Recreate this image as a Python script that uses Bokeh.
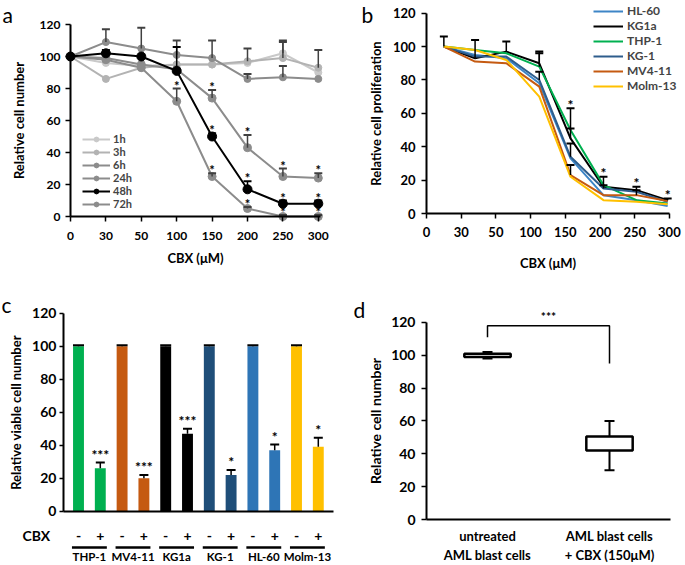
from bokeh.plotting import figure
from bokeh.layouts import row, column
from bokeh.models import (ColumnDataSource, Range1d, Legend, LegendItem, FixedTicker)
from bokeh.core.properties import value
from bokeh.embed import file_html
from bokeh.resources import INLINE

nan = float("nan")
FONT = "Lato"

# ---------------- panel a data ----------------
a_doses = ["0", "30", "50", "100", "150", "200", "250", "300"]
a_names = ["1h", "3h", "6h", "24h", "48h", "72h"]
a_1h = [100, 96, 94, 95, 95, 96, 102, 90]
a_3h = [100, 86, 93, 95, 95, 97, 99, 93]
a_6h = [100, 109, 105, 101, 99, 86, 87, 86]
a_24h = [100, 99, 95, 92, 74, 43, 25, 24]
a_48h = [100, 102, 100, 91, 50, 17, 8, 8]
a_72h = [100, 98, 93, 72, 25, 5, 0, 0]
a_err_1h = [nan, nan, nan, nan, nan, nan, 110, nan]
a_err_3h = [nan, nan, nan, nan, nan, 105, 109, 104]
a_err_6h = [nan, 117, 118, 110, 110, 89, 94, nan]
a_err_24h = [nan, nan, nan, nan, 79, 51, 30, 27]
a_err_48h = [nan, 104, nan, 106, 52, 22, 10, 10]
a_err_72h = [nan, nan, nan, 80, 27, 6, 1, 1]
a_star_24h = [0, 0, 0, 0, 1, 1, 1, 1]
a_star_48h = [0, 0, 0, 0, 1, 1, 1, 1]
a_star_72h = [0, 0, 0, 1, 1, 1, 1, 1]

# ---------------- panel b data ----------------
b_doses = ["0", "30", "50", "100", "150", "200", "250", "300"]
b_pos = [0.5, 1.4, 2.3, 3.25, 4.15, 5.1, 6.05, 6.95]
b_names = ["HL-60", "KG1a", "THP-1", "KG-1", "MV4-11", "Molm-13"]
b_hl60 = [100, 95, 93, 78, 33, 11, 8, 4.5]
b_kg1a = [100, 93, 97, 90, 45, 16, 14, 8]
b_thp1 = [100, 98, 96, 88, 50, 17, 8, 6]
b_kg1 = [100, 94, 94, 80, 34, 15, 13, 7]
b_mv411 = [100, 91, 90, 76, 23, 11, 11, 7.5]
b_molm13 = [100, 98, 92, 70, 22, 8, 7, 5.5]
b_err_kg1a = [106, 104, 103, 97, 51, nan, 16, 9]
b_err_thp1 = [nan, nan, nan, 96, 63, 22, nan, nan]
b_err_kg1 = [nan, nan, nan, 85, 42, 17, nan, nan]
b_err_mv411 = [nan, nan, nan, nan, 29, nan, 14, nan]
b_star = [0, 0, 0, 0, 1, 1, 1, 1]

# ---------------- panel c data ----------------
c_lines = ["THP-1", "MV4-11", "KG1a", "KG-1", "HL-60", "Molm-13"]
c_ctrl = [100, 100, 100, 100, 100, 100]
c_ctrl_err = [0.6, 0.6, 0.6, 0.6, 0.6, 0.6]
c_cbx = [26, 20, 47, 22, 37, 39]
c_cbx_err = [3.5, 2, 3, 3, 3.5, 5.5]
c_sig = ["***", "***", "***", "*", "*", "*"]
c_signs = ["-", "+"]

# ---------------- panel d data ----------------
d_groups = ["untreated\nAML blast cells", "AML blast cells\n+ CBX (150\u03bcM)"]
d_low = [98, 30]
d_q1 = [99, 42]
d_med = [100, 42]
d_q3 = [101, 50.5]
d_high = [102, 60]
d_bracket = [111, 118, 118, 95]
d_sig = "***"

A_COLORS = ["#c9c9c9", "#b3b3b3", "#8c8c8c", "#8c8c8c", "#000000", "#8c8c8c"]
B_COLORS = ["#3d85c6", "#000000", "#00b050", "#2e5d8c", "#c55a11", "#ffc000"]
C_COLORS = ["#00b050", "#c55a11", "#000000", "#1f4e79", "#2e75b6", "#ffc000"]


class Geo:
    """Maps canvas pixels of a panel to data units (frame covers the whole canvas)."""
    def __init__(self, w, h, ox, kx, oy, ky):
        self.w, self.h, self.ox, self.kx, self.oy, self.ky = w, h, ox, kx, oy, ky

    def xr(self):
        return Range1d(-self.ox / self.kx, (self.w - self.ox) / self.kx)

    def yr(self):
        return Range1d(-(self.h - self.oy) / self.ky, self.oy / self.ky)

    def X(self, px):
        return (px - self.ox) / self.kx

    def Y(self, py):
        return (self.oy - py) / self.ky


def base_fig(g, tick_fs, lab_fs):
    p = figure(width=g.w, height=g.h, x_range=g.xr(), y_range=g.yr(),
               min_border_left=0, min_border_right=0, min_border_top=0, min_border_bottom=0,
               output_backend="svg", toolbar_location=None)
    p.xgrid.visible = False
    p.ygrid.visible = False
    p.outline_line_color = None
    for ax in (p.xaxis, p.yaxis):
        ax.axis_line_width = 2
        ax.axis_line_color = "black"
        ax.major_tick_line_width = 1.5
        ax.major_tick_line_color = "black"
        ax.major_tick_in = 0
        ax.major_tick_out = 5
        ax.minor_tick_line_color = None
        ax.major_label_text_font = FONT
        ax.major_label_text_font_style = "bold"
        ax.major_label_text_font_size = tick_fs
        ax.major_label_text_color = "black"
        ax.axis_label_text_font = FONT
        ax.axis_label_text_font_style = "bold"
        ax.axis_label_text_font_size = lab_fs
        ax.axis_label_text_color = "black"
    p.yaxis.ticker = FixedTicker(ticks=[0, 20, 40, 60, 80, 100, 120])
    p.yaxis.bounds = (0, 120)
    return p


def txt(p, xs, ys, texts, fs, bold=True, align="center", baseline="middle", yoff=0):
    p.text(x=xs, y=ys, text=texts, text_font=value(FONT),
           text_font_style="bold" if bold else "normal", text_font_size=fs,
           text_align=align, text_baseline=baseline, y_offset=yoff, text_color="black")


def letter(p, g, t, px, py):
    txt(p, [g.X(px)], [g.Y(py)], [t], "21px", bold=False, align="left")


def err_bars(p, xs, vals, tops, color, cap):
    x0, y0, y1 = [], [], []
    for x, v, t in zip(xs, vals, tops):
        if t == t:
            x0.append(x); y0.append(v); y1.append(t)
    src = ColumnDataSource(dict(x=x0, y0=y0, y1=y1))
    p.segment(x0="x", y0="y0", x1="x", y1="y1", source=src, line_color=color, line_width=1.5)
    p.scatter(x="x", y="y1", source=src, marker="dash", size=cap, line_color=color, line_width=2)


def stars(p, xs, ys, flags, t, fs, off):
    sx = [x for x, f in zip(xs, flags) if f]
    sy = [y for y, f in zip(ys, flags) if f]
    txt(p, sx, sy, [t] * len(sx), fs, yoff=off)


# ================= panel a =================
a_x = list(range(len(a_doses)))
ga = Geo(340, 290, 70, 35.4, 216, 1.6)
p_a = base_fig(ga, "12px", "13px")
p_a.xaxis.fixed_location = 0
p_a.yaxis.fixed_location = 0
p_a.xaxis.bounds = (0, 7.06)
p_a.xaxis.ticker = FixedTicker(ticks=a_x)
p_a.xaxis.major_label_overrides = {i: d for i, d in enumerate(a_doses)}
p_a.xaxis.major_label_standoff = 10
p_a.xaxis.axis_label = "CBX (\u03bcM)"
p_a.xaxis.axis_label_standoff = 7
p_a.yaxis.axis_label = "Relative cell number"
p_a.yaxis.major_label_standoff = 5
p_a.yaxis.axis_label_standoff = 10

a_vals = [a_1h, a_3h, a_6h, a_24h, a_48h, a_72h]
a_errs = [a_err_1h, a_err_3h, a_err_6h, a_err_24h, a_err_48h, a_err_72h]
a_sizes = [7, 7, 7, 8, 9, 8]
a_items = {}
for i in [0, 1, 2, 3, 5, 4]:
    c = A_COLORS[i]
    ln = p_a.line(a_x, a_vals[i], line_color=c, line_width=2)
    sc = p_a.scatter(a_x, a_vals[i], size=a_sizes[i], fill_color=c, line_color=c)
    a_items[i] = LegendItem(label=a_names[i], renderers=[ln, sc])
    err_bars(p_a, a_x, a_vals[i], a_errs[i], "#000000" if i == 4 else "#404040", 8)
stars(p_a, a_x, a_err_24h, a_star_24h, "*", "13px", -3)
stars(p_a, a_x, a_err_48h, a_star_48h, "*", "13px", -3)
stars(p_a, a_x, a_err_72h, a_star_72h, "*", "13px", -3)
leg_a = Legend(items=[a_items[i] for i in range(6)], location=(82, 80),
               label_text_font=FONT, label_text_font_style="bold", label_text_font_size="11px",
               glyph_width=28, glyph_height=12, label_height=12, spacing=0, padding=0, margin=0,
               label_standoff=3, border_line_color=None, background_fill_alpha=0)
p_a.add_layout(leg_a)
letter(p_a, ga, "a", 2, 14)

# ================= panel b =================
gb = Geo(344, 290, 86, 34.7, 213, 1.669)
p_b = base_fig(gb, "13px", "13px")
p_b.xaxis.fixed_location = 0
p_b.yaxis.fixed_location = 0
p_b.xaxis.bounds = (0, 7.0)
p_b.xaxis.ticker = FixedTicker(ticks=list(range(len(b_doses))))
p_b.xaxis.major_label_overrides = {i: d for i, d in enumerate(b_doses)}
p_b.xaxis.major_label_standoff = 8
p_b.xaxis.axis_label = "CBX (\u03bcM)"
p_b.xaxis.axis_label_standoff = 15
p_b.yaxis.axis_label = "Relative cell proliferation"
p_b.yaxis.major_label_standoff = 6
p_b.yaxis.axis_label_standoff = 6

b_vals = [b_hl60, b_kg1a, b_thp1, b_kg1, b_mv411, b_molm13]
b_items = []
for i, vals in enumerate(b_vals):
    ln = p_b.line(b_pos, vals, line_color=B_COLORS[i], line_width=2)
    b_items.append(LegendItem(label=b_names[i], renderers=[ln]))
for vals, errs in [(b_kg1a, b_err_kg1a), (b_thp1, b_err_thp1), (b_kg1, b_err_kg1), (b_mv411, b_err_mv411)]:
    err_bars(p_b, b_pos, vals, errs, "#000000", 8)
b_star_y = []
for k in range(len(b_pos)):
    tops = [e[k] for e in (b_err_kg1a, b_err_thp1, b_err_kg1, b_err_mv411) if e[k] == e[k]]
    b_star_y.append(max(tops) if tops else 0)
stars(p_b, b_pos, b_star_y, b_star, "*", "14px", -4)
leg_b = Legend(items=b_items, location=(253, 197),
               label_text_font=FONT, label_text_font_style="bold", label_text_font_size="12px",
               glyph_width=30, glyph_height=14, label_height=14, spacing=0, padding=0, margin=0,
               label_standoff=4, border_line_color=None, background_fill_alpha=0)
p_b.add_layout(leg_b)
letter(p_b, gb, "b", 21, 14)

# ================= panel c =================
n = len(c_lines)
c_xc = [2 * g for g in range(n)]
c_xt = [2 * g + 1 for g in range(n)]
gc = Geo(340, 274, 78, 21.8, 220.7, 1.65)
p_c = base_fig(gc, "14px", "13px")
p_c.xaxis.fixed_location = 0
p_c.yaxis.fixed_location = -0.69
p_c.xaxis.bounds = (-0.69, 2 * n - 1 + 0.69)
p_c.xaxis.ticker = FixedTicker(ticks=[])
p_c.yaxis.axis_label = "Relative viable cell number"
p_c.yaxis.major_tick_out = 4
p_c.yaxis.major_label_standoff = 3
p_c.yaxis.axis_label_standoff = 5
p_c.vbar(x=c_xc, top=c_ctrl, width=0.5, fill_color=C_COLORS, line_color=None)
p_c.vbar(x=c_xt, top=c_cbx, width=0.5, fill_color=C_COLORS, line_color=None)
err_bars(p_c, c_xc, c_ctrl, [v + e for v, e in zip(c_ctrl, c_ctrl_err)], "#000000", 11)
c_top = [v + e for v, e in zip(c_cbx, c_cbx_err)]
err_bars(p_c, c_xt, c_cbx, c_top, "#000000", 9)
txt(p_c, c_xt, c_top, c_sig, "14px", yoff=-8)
txt(p_c, c_xc + c_xt, [gc.Y(245)] * (2 * n), [c_signs[0]] * n + [c_signs[1]] * n, "14px")
txt(p_c, [gc.X(22)], [gc.Y(245)], ["CBX"], "14px", align="left")
grp_x = [2 * g + 0.5 for g in range(n)]
p_c.segment(x0=[x - 0.8 for x in grp_x], y0=[gc.Y(257)] * n, x1=[x + 0.8 for x in grp_x],
            y1=[gc.Y(257)] * n, line_color="black", line_width=2.5)
txt(p_c, grp_x, [gc.Y(266)] * n, c_lines, "11.5px")
letter(p_c, gc, "c", 1, 14)

# ================= panel d =================
d_x = [i + 0.5 for i in range(len(d_groups))]
gd = Geo(344, 274, 86, 122, 229, 1.642)
p_d = base_fig(gd, "14px", "14px")
p_d.xaxis.fixed_location = 0
p_d.yaxis.fixed_location = 0
p_d.xaxis.bounds = (0, len(d_groups))
p_d.xaxis.ticker = FixedTicker(ticks=d_x)
p_d.xaxis.major_label_overrides = {x: g for x, g in zip(d_x, d_groups)}
p_d.xaxis.major_tick_out = 0
p_d.xaxis.major_label_standoff = 8
p_d.xaxis.major_label_text_font_size = "13px"
p_d.yaxis.axis_label = "Relative cell number"
p_d.yaxis.major_label_standoff = 6
p_d.yaxis.axis_label_standoff = 4
p_d.segment(x0=d_x, y0=d_low, x1=d_x, y1=d_high, line_color="black", line_width=2)
p_d.scatter(x=d_x, y=d_low, marker="dash", size=10, line_color="black", line_width=2)
p_d.scatter(x=d_x, y=d_high, marker="dash", size=10, line_color="black", line_width=2)
p_d.vbar(x=d_x, bottom=d_q1, top=d_q3, width=0.38, fill_color="white", line_color="black", line_width=2.5)
p_d.rect(x=d_x, y=d_med, width=0.38, height=0, fill_alpha=0, line_color="black", line_width=2.5)
p_d.line(x=[d_x[0], d_x[0], d_x[1], d_x[1]], y=d_bracket, line_color="black", line_width=1.5)
txt(p_d, [(d_x[0] + d_x[1]) / 2], [max(d_bracket)], [d_sig], "12px", yoff=-9)
letter(p_d, gd, "d", 13, 19)

layout = column(row(p_a, p_b), row(p_c, p_d))
open("out.html", "w").write(file_html(layout, INLINE))
